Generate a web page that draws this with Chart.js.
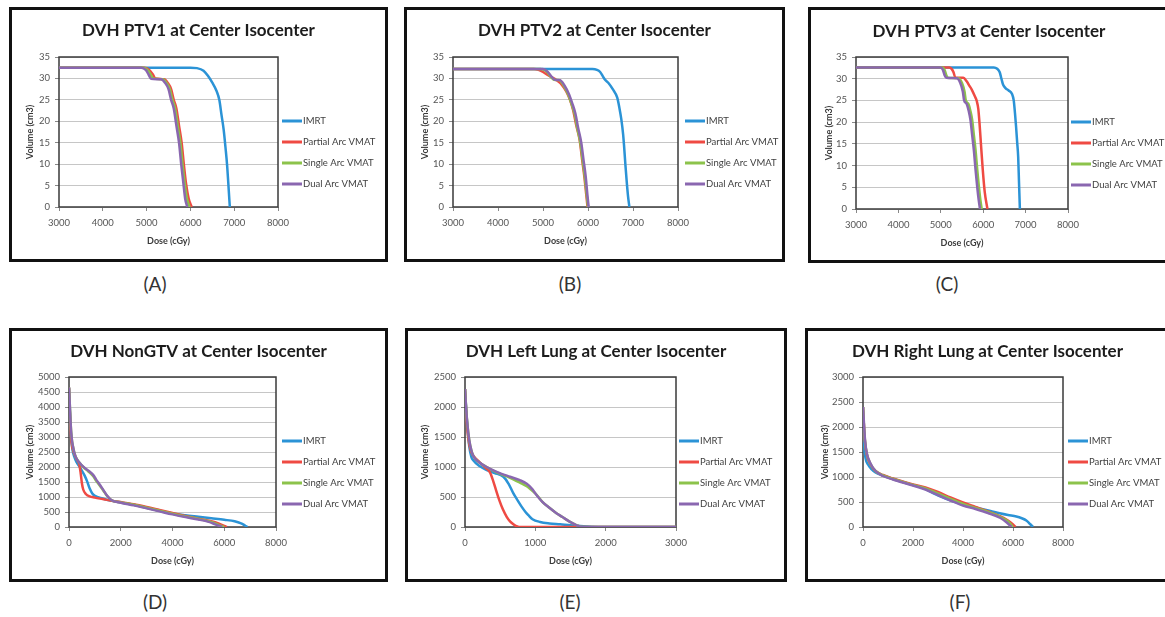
<!DOCTYPE html>
<html>
<head>
<meta charset="utf-8">
<script src="https://cdn.jsdelivr.net/npm/chart.js"></script>
<style>
  body { margin: 0; background: #fff; width: 1165px; height: 617px; overflow: hidden; position: relative; font-family: Lato, "Open Sans", sans-serif; }
  .panel { position: absolute; border: 3px solid #111; box-sizing: border-box; background: #fff; }
  .panel canvas { position: absolute; left: 0; top: 0; }
  .cap { position: absolute; font-size: 19px; color: #333; transform: translate(-50%, -50%); }
</style>
</head>
<body>
<script>
const seriesNames = ['IMRT', 'Partial Arc VMAT', 'Single Arc VMAT', 'Dual Arc VMAT'];
const titles = [
  'DVH PTV1 at Center Isocenter', 'DVH PTV2 at Center Isocenter', 'DVH PTV3 at Center Isocenter',
  'DVH NonGTV at Center Isocenter', 'DVH Left Lung at Center Isocenter', 'DVH Right Lung at Center Isocenter'
];
const captions = ['(A)', '(B)', '(C)', '(D)', '(E)', '(F)'];
// [min, max, step]
const doseTicks = [[3000, 8000, 1000], [3000, 8000, 1000], [3000, 8000, 1000], [0, 8000, 2000], [0, 3000, 1000], [0, 8000, 2000]];
const volumeTicks = [[0, 35, 5], [0, 35, 5], [0, 35, 5], [0, 5000, 500], [0, 2500, 500], [0, 3000, 500]];

// [dose cGy, volume cm3]
const ptv1Imrt = [[3000,32.5],[6000,32.5],[6150,32.4],[6300,31.8],[6400,30.6],[6500,29],[6600,27],[6660,25],[6710,21.5],[6760,18],[6800,14],[6840,9.5],[6875,4],[6900,0]];
const ptv1Partial = [[3000,32.5],[4950,32.5],[5060,32],[5140,31],[5200,30],[5400,29.8],[5480,29],[5560,27.5],[5620,25],[5680,23],[5740,19],[5800,15],[5850,10],[5900,5.5],[5960,2],[6030,0]];
const ptv1Single = [[3000,32.5],[4920,32.5],[5020,32],[5090,31],[5150,30],[5370,29.8],[5450,29],[5530,27.5],[5590,25],[5650,23],[5710,19],[5770,15],[5820,10],[5870,5.5],[5920,2],[5980,0]];
const ptv1Dual = [[3000,32.5],[4880,32.5],[4980,32],[5050,30.8],[5100,29.9],[5330,29.8],[5420,29],[5500,27.5],[5560,25],[5620,23],[5680,19],[5740,15],[5790,10],[5840,5.5],[5880,2],[5930,0]];

const ptv2Imrt = [[3000,32.2],[6100,32.2],[6200,32],[6270,31.5],[6330,30.5],[6370,29.8],[6450,29],[6550,27.5],[6650,25.5],[6700,23],[6740,20.5],[6780,17],[6800,14.5],[6830,10],[6860,6],[6890,2.5],[6920,0]];
const ptv2Partial = [[3000,32.2],[4800,32.2],[4900,32],[5000,31.5],[5150,30.5],[5300,29.6],[5420,28.5],[5520,26.9],[5600,25],[5670,22.6],[5740,19],[5815,15.6],[5870,11],[5920,7],[5960,3],[5990,0]];
const ptv2Single = [[3000,32.2],[4950,32.2],[5080,31.6],[5180,30.3],[5240,29.7],[5360,29.6],[5460,28.3],[5550,26.5],[5630,24.2],[5700,21.8],[5760,18.5],[5830,15],[5880,11],[5930,7],[5970,3],[6000,0]];
const ptv2Dual = [[3000,32.2],[5000,32.2],[5100,31.6],[5200,30.3],[5260,29.7],[5380,29.6],[5480,28.3],[5570,26.5],[5650,24.2],[5720,21.8],[5780,18.5],[5850,15],[5900,11],[5950,7],[5985,3],[6015,0]];

const ptv3Imrt = [[3000,32.6],[6250,32.6],[6330,32.3],[6390,31.5],[6430,30],[6470,28.6],[6530,27.8],[6600,27.3],[6680,26.5],[6720,25],[6750,22],[6775,19],[6800,15.5],[6825,12],[6845,6],[6865,0]];
const ptv3Partial = [[3000,32.6],[5200,32.6],[5260,32.2],[5300,31.5],[5340,30.3],[5530,30.2],[5610,29.4],[5680,28.3],[5730,27.5],[5800,26],[5850,24.8],[5885,23],[5915,19.5],[5950,14.5],[5990,9],[6035,4],[6100,0]];
const ptv3Single = [[3000,32.6],[5040,32.6],[5090,32],[5130,30.8],[5170,30.2],[5420,30.1],[5500,29],[5560,27],[5590,25],[5650,24.2],[5700,22.5],[5740,20.5],[5780,17],[5820,13.5],[5860,9],[5900,5],[5935,2],[5965,0]];
const ptv3Dual = [[3000,32.6],[5000,32.6],[5050,32],[5090,30.8],[5130,30.2],[5380,30.1],[5460,29],[5520,27],[5550,25],[5610,24.2],[5660,22.5],[5700,20.5],[5740,17],[5780,13.5],[5820,9],[5860,5],[5895,2],[5925,0]];

const nonGtvImrt = [[0,4650],[25,4100],[50,3500],[80,3000],[130,2600],[200,2350],[300,2150],[450,1950],[600,1720],[700,1520],[800,1280],[900,1120],[1000,1040],[1300,950],[1600,880],[2000,820],[2500,740],[3000,640],[3500,540],[4000,450],[4500,390],[5000,340],[5500,290],[6000,240],[6400,190],[6650,120],[6800,50],[6900,0]];
const nonGtvPartial = [[0,4650],[25,4000],[50,3400],[100,2800],[200,2450],[300,2250],[400,2080],[450,1800],[500,1450],[550,1250],[650,1100],[800,1020],[1000,980],[1300,930],[1600,880],[2000,830],[2500,760],[3000,670],[3500,570],[4000,470],[4500,370],[5000,280],[5500,190],[5800,110],[6000,40],[6100,0]];
const nonGtvSingle = [[0,4650],[30,4100],[60,3500],[100,3000],[150,2700],[250,2350],[400,2150],[550,2000],[750,1850],[940,1690],[1050,1540],[1200,1370],[1330,1210],[1460,1050],[1650,890],[2000,820],[2500,740],[3000,640],[3500,540],[4000,440],[4500,350],[5000,270],[5400,190],[5700,100],[5900,30],[6000,0]];
const nonGtvDual = [[0,4650],[30,4100],[60,3500],[100,3000],[150,2700],[250,2350],[400,2150],[550,2010],[750,1880],[940,1730],[1050,1580],[1200,1400],[1330,1230],[1460,1060],[1650,890],[2000,810],[2500,720],[3000,620],[3500,520],[4000,420],[4500,330],[5000,250],[5400,170],[5650,90],[5850,25],[5920,0]];

const leftLungImrt = [[0,2300],[15,2000],[35,1650],[60,1350],[90,1170],[120,1110],[200,1020],[310,950],[420,900],[546,837],[620,720],[688,560],[750,440],[807,335],[860,250],[902,196],[960,130],[1068,84],[1200,60],[1353,45],[1500,28],[1638,17],[1800,5],[2000,0],[3000,0]];
const leftLungPartial = [[0,2300],[15,1950],[35,1600],[60,1380],[90,1250],[130,1170],[200,1090],[280,1000],[330,950],[356,910],[400,770],[440,620],[490,440],[540,290],[593,170],[640,95],[688,45],[730,15],[770,0],[3000,0]];
const leftLungSingle = [[0,2300],[15,2000],[35,1700],[60,1450],[90,1280],[120,1180],[200,1080],[309,1000],[450,910],[640,820],[780,740],[878,680],[950,610],[1000,560],[1100,420],[1200,320],[1300,230],[1380,170],[1500,80],[1590,28],[1670,0],[3000,0]];
const leftLungDual = [[0,2300],[15,2000],[35,1700],[60,1450],[90,1280],[120,1180],[200,1080],[309,1000],[450,920],[640,837],[780,780],[878,720],[950,640],[1000,560],[1100,420],[1200,320],[1300,230],[1380,170],[1500,80],[1590,28],[1670,0],[3000,0]];

const rightLungImrt = [[0,2400],[20,2000],[50,1600],[100,1380],[200,1250],[350,1150],[500,1090],[800,1030],[1200,960],[2000,840],[2400,780],[2800,680],[3300,570],[3867,470],[4300,410],[4667,370],[5100,320],[5467,275],[5800,240],[6133,210],[6350,175],[6533,130],[6680,60],[6800,0]];
const rightLungPartial = [[0,2400],[30,2100],[80,1700],[150,1450],[300,1250],[500,1120],[800,1040],[1200,970],[2000,850],[2500,790],[3000,700],[3500,590],[4000,490],[4500,400],[5000,310],[5500,210],[5800,130],[6000,50],[6100,0]];
const rightLungSingle = [[0,2400],[30,2100],[80,1720],[150,1470],[300,1260],[500,1120],[800,1030],[1200,960],[2000,840],[2500,770],[3000,670],[3500,560],[4000,460],[4500,380],[5000,300],[5500,200],[5800,110],[5950,30],[6000,0]];
const rightLungDual = [[0,2400],[30,2150],[80,1750],[150,1480],[300,1270],[500,1120],[800,1020],[1200,950],[2000,830],[2500,750],[3000,640],[3500,530],[4000,430],[4500,360],[5000,280],[5500,180],[5750,90],[5900,20],[5950,0]];

const panelSeries = [
  [ptv1Imrt, ptv1Partial, ptv1Single, ptv1Dual],
  [ptv2Imrt, ptv2Partial, ptv2Single, ptv2Dual],
  [ptv3Imrt, ptv3Partial, ptv3Single, ptv3Dual],
  [nonGtvImrt, nonGtvPartial, nonGtvSingle, nonGtvDual],
  [leftLungImrt, leftLungPartial, leftLungSingle, leftLungDual],
  [rightLungImrt, rightLungPartial, rightLungSingle, rightLungDual]
];

(() => {
  const colors = ['#2b93d6', '#ef4a43', '#8cc34b', '#8a67b0'];
  // page geometry: box [l,t,r,b], plot [l,t,r,b], title y, dose title y, volume title x, legend [x,y], caption [x,y]
  const layout = [
    { box: [9, 7, 388, 262], plot: [59, 57, 278, 207], titleY: 31, doseY: 241, volX: 30, legend: [282, 121], cap: [155, 283] },
    { box: [404, 7, 785, 262], plot: [453, 57, 678, 207], titleY: 31, doseY: 241, volX: 425, legend: [685, 121], cap: [570, 283] },
    { box: [808, 7, 1170, 263], plot: [856, 57, 1068, 209], titleY: 32, doseY: 243, volX: 829, legend: [1071, 122], cap: [947, 283] },
    { box: [9, 328, 388, 582], plot: [69, 377, 276, 527], titleY: 352, doseY: 561, volX: 30, legend: [282, 441], cap: [155, 601] },
    { box: [405, 328, 787, 582], plot: [465, 377, 676, 527], titleY: 352, doseY: 561, volX: 425, legend: [679, 441], cap: [570, 601] },
    { box: [805, 328, 1170, 582], plot: [863, 377, 1063, 527], titleY: 352, doseY: 561, volX: 825, legend: [1068, 441], cap: [960, 601] }
  ];

  Chart.defaults.font.family = 'Lato, "Open Sans", sans-serif';

  const frame = {
    id: 'frame',
    beforeDatasetsDraw(chart) {
      const { ctx, chartArea: a } = chart;
      ctx.save();
      ctx.strokeStyle = '#3a3a3a';
      ctx.lineWidth = 1.5;
      ctx.strokeRect(a.left, a.top, a.right - a.left, a.bottom - a.top);
      ctx.restore();
    }
  };

  const sideLegend = {
    id: 'sideLegend',
    afterDraw(chart, args, opts) {
      const { ctx } = chart;
      ctx.save();
      ctx.font = '9.5px Lato, "Open Sans", sans-serif';
      ctx.textBaseline = 'middle';
      chart.data.datasets.forEach((ds, i) => {
        const y = opts.y + i * 21;
        ctx.strokeStyle = ds.borderColor;
        ctx.lineWidth = 3;
        ctx.beginPath();
        ctx.moveTo(opts.x, y);
        ctx.lineTo(opts.x + 20, y);
        ctx.stroke();
        ctx.fillStyle = '#404040';
        ctx.fillText(ds.label, opts.x + 21, y);
      });
      ctx.restore();
    }
  };

  layout.forEach((g, k) => {
    const [bl, bt, br, bb] = g.box;
    const [pl, pt, pr, pb] = g.plot;
    const box = document.createElement('div');
    box.className = 'panel';
    Object.assign(box.style, { left: bl + 'px', top: bt + 'px', width: (br - bl) + 'px', height: (bb - bt) + 'px' });
    const canvas = document.createElement('canvas');
    const cw = br - bl - 6, ch = bb - bt - 6;
    canvas.width = cw;
    canvas.height = ch;
    box.appendChild(canvas);
    document.body.appendChild(box);

    const cap = document.createElement('div');
    cap.className = 'cap';
    cap.textContent = captions[k];
    Object.assign(cap.style, { left: g.cap[0] + 'px', top: g.cap[1] + 'px' });
    document.body.appendChild(cap);

    const ox = bl + 3, oy = bt + 3;
    const titlePadTop = g.titleY - oy - 10.2;
    const titlePadBottom = (pt - oy) - titlePadTop - 20.4;
    const [xMin, xMax, xStep] = doseTicks[k];
    const [yMin, yMax, yStep] = volumeTicks[k];

    new Chart(canvas.getContext('2d'), {
      type: 'line',
      data: {
        datasets: panelSeries[k].map((pts, i) => ({
          label: seriesNames[i],
          data: pts.map(([x, y]) => ({ x, y })),
          borderColor: colors[i],
          backgroundColor: colors[i],
          borderWidth: 2.5,
          pointRadius: 0,
          cubicInterpolationMode: 'monotone',
          fill: false,
          order: 4 - i
        }))
      },
      plugins: [frame, sideLegend],
      options: {
        responsive: false,
        animation: false,
        layout: { padding: 0 },
        plugins: {
          legend: { display: false },
          tooltip: { enabled: false },
          title: {
            display: true,
            text: titles[k],
            color: '#1c1c1c',
            font: { size: 17, weight: 'bold' },
            padding: { top: titlePadTop, bottom: titlePadBottom }
          },
          sideLegend: { x: g.legend[0] - ox, y: g.legend[1] - oy }
        },
        scales: {
          x: {
            type: 'linear',
            min: xMin,
            max: xMax,
            ticks: { stepSize: xStep, color: '#555', font: { size: 9.5 }, padding: 6, maxRotation: 0, callback: v => String(v) },
            grid: { drawOnChartArea: false, drawTicks: true, tickLength: 4, color: '#888' },
            border: { display: false },
            title: {
              display: true,
              text: 'Dose (cGy)',
              color: '#3a3a3a',
              font: { size: 9, weight: 'bold' },
              padding: { top: 0, bottom: (bb - 3 - g.doseY) - 5.4 }
            },
            afterFit: s => { s.height = ch - (pb - oy); }
          },
          y: {
            min: yMin,
            max: yMax,
            ticks: { stepSize: yStep, color: '#555', font: { size: 9.5 }, padding: 5, callback: v => String(v) },
            grid: { color: '#c6c6c6', lineWidth: 1, tickLength: 4, tickColor: '#888' },
            border: { display: false },
            title: {
              display: true,
              text: 'Volume (cm3)',
              color: '#3a3a3a',
              font: { size: 9, weight: 'bold' },
              padding: { top: g.volX - ox - 5.4, bottom: 0 }
            },
            afterFit: s => { s.width = pl - ox; }
          },
          legendSpace: {
            type: 'linear',
            position: 'right',
            display: true,
            ticks: { display: false },
            grid: { display: false },
            border: { display: false },
            afterFit: s => { s.width = cw - (pr - ox); }
          }
        }
      }
    });
  });
})();
</script>
</body>
</html>
